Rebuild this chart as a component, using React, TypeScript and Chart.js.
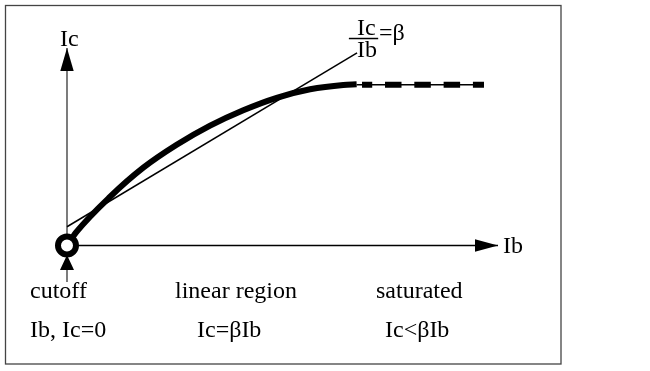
import React, { useEffect, useRef } from 'react';
import { Chart, registerables } from 'chart.js';

Chart.register(...registerables);

// Transistor characteristic (schematic): Ib on x, Ic on y (arbitrary units 0..100)
const curveIb = [0, 2.25, 10.0, 17.7, 25.45, 33.2, 40.9, 48.65, 56.4, 64.1, 67.2];
const curveIc = [0, 7.0, 24.7, 39.4, 51.0, 60.7, 68.5, 74.8, 79.1, 81.3, 81.6];

const saturationIb = [67.2, 96.75];
const saturationIc = [81.4, 81.4];
const saturationDashIb = [68.45, 96.75];

const tangentIb = [0, 67.3];
const tangentIc = [9.5, 97.5];

const xAxisIb = [0, 100];
const xAxisIc = [0, 0];
const yAxisIb = [0, 0];
const yAxisIc = [-18.5, 100];

const cutoffIb = [0];
const cutoffIc = [0];

const regionLabels = ['cutoff', 'linear region', 'saturated'];
const regionFormulas = ['Ib, Ic=0', 'Ic=βIb', 'Ic<βIb'];
const axisLabels = ['Ib', 'Ic'];
const fractionParts = ['Ic', 'Ib', '=β'];

const X_MIN = -15.545;
const X_MAX = 135.267;
const Y_MIN = -63.544;
const Y_MAX = 124.304;

const pts = (xs: number[], ys: number[]) => xs.map((x, i) => ({ x, y: ys[i] }));

const FONT = '24px "Liberation Serif", "Times New Roman", serif';

const decorPlugin = {
  id: 'decor',
  afterDatasetsDraw(chart: any) {
    const { ctx, scales } = chart;
    const X = (v: number) => scales.x.getPixelForValue(v);
    const Y = (v: number) => scales.y.getPixelForValue(v);
    ctx.save();

    const arrow = (tx: number, ty: number, dx: number, dy: number, len: number, hw: number, color: string) => {
      const bx = tx - dx * len;
      const by = ty - dy * len;
      const px = -dy;
      const py = dx;
      ctx.beginPath();
      ctx.moveTo(tx, ty);
      ctx.lineTo(bx + px * hw, by + py * hw);
      ctx.lineTo(bx - px * hw, by - py * hw);
      ctx.closePath();
      ctx.fillStyle = color;
      ctx.fill();
    };
    // axis arrowheads
    arrow(X(xAxisIb[1]), Y(xAxisIc[1]), 1, 0, 23, 6.3, '#000');
    arrow(X(yAxisIb[1]), Y(yAxisIc[1]), 0, -1, 23, 6.7, '#000');
    // cutoff pointer (below origin, pointing up)
    arrow(X(0), Y(-4.8), 0, -1, 15, 7, '#000');

    // texts
    ctx.fillStyle = '#000';
    ctx.font = FONT;
    ctx.textBaseline = 'alphabetic';
    ctx.textAlign = 'left';
    ctx.fillText(regionLabels[0], X(-8.58), Y(-26.6));
    ctx.fillText(regionFormulas[0], X(-8.58), Y(-46.1));
    ctx.fillText(regionLabels[1], X(25.06), Y(-26.6));
    ctx.fillText(regionFormulas[1], X(30.16), Y(-46.1));
    ctx.fillText(regionLabels[2], X(71.69), Y(-26.6));
    ctx.fillText(regionFormulas[2], X(73.78), Y(-46.1));
    ctx.fillText(axisLabels[0], X(101.16), Y(-3.8));
    ctx.fillText(axisLabels[1], X(-1.62), Y(101.0));

    // fraction Ic/Ib = β
    ctx.fillText(fractionParts[0], X(67.3), Y(106.6));
    ctx.fillText(fractionParts[1], X(67.3), Y(95.4));
    ctx.fillText(fractionParts[2], X(72.4), Y(104.05));
    ctx.beginPath();
    ctx.lineWidth = 1.5;
    ctx.strokeStyle = '#000';
    ctx.moveTo(X(65.4), Y(104.8));
    ctx.lineTo(X(72.2), Y(104.8));
    ctx.stroke();

    // frame
    ctx.lineWidth = 1.3;
    ctx.strokeStyle = '#444';
    ctx.strokeRect(5.5, 5.5, 555.5, 358.5);
    ctx.restore();
  },
};

export default function App() {
  const canvasRef = useRef<HTMLCanvasElement | null>(null);

  useEffect(() => {
    if (!canvasRef.current) return;
    const chart = new Chart(canvasRef.current, {
      type: 'scatter',
      data: {
        datasets: [
          {
            label: 'cutoff',
            data: pts(cutoffIb, cutoffIc),
            showLine: false,
            pointRadius: 9,
            pointBorderWidth: 6,
            pointBackgroundColor: '#fff',
            pointBorderColor: '#000',
            order: 0,
          },
          {
            label: 'Ic',
            data: pts(curveIb, curveIc),
            showLine: true,
            borderColor: '#000',
            borderWidth: 6,
            pointRadius: 0,
            cubicInterpolationMode: 'monotone',
            order: 1,
          },
          {
            label: 'saturation dashes',
            data: pts(saturationDashIb, saturationIc),
            showLine: true,
            borderColor: '#000',
            borderWidth: 6,
            borderDash: [16.5, 12.8],
            borderDashOffset: 6.3,
            borderCapStyle: 'butt',
            pointRadius: 0,
            order: 2,
          },
          {
            label: 'saturation',
            data: pts(saturationIb, saturationIc),
            showLine: true,
            borderColor: '#000',
            borderWidth: 1.5,
            pointRadius: 0,
            order: 3,
          },
          {
            label: 'beta',
            data: pts(tangentIb, tangentIc),
            showLine: true,
            borderColor: '#000',
            borderWidth: 1.5,
            pointRadius: 0,
            order: 4,
          },
          {
            label: 'Ib axis',
            data: pts(xAxisIb, xAxisIc),
            showLine: true,
            borderColor: '#000',
            borderWidth: 1.4,
            pointRadius: 0,
            order: 5,
          },
          {
            label: 'Ic axis',
            data: pts(yAxisIb, yAxisIc),
            showLine: true,
            borderColor: '#444',
            borderWidth: 1.4,
            pointRadius: 0,
            order: 6,
          },
        ],
      },
      options: {
        animation: false,
        responsive: false,
        devicePixelRatio: 1,
        layout: { padding: 0, autoPadding: false },
        plugins: { legend: { display: false }, tooltip: { enabled: false } },
        scales: {
          x: { type: 'linear', display: false, min: X_MIN, max: X_MAX },
          y: { type: 'linear', display: false, min: Y_MIN, max: Y_MAX },
        },
      },
      plugins: [decorPlugin],
    } as any);
    return () => chart.destroy();
  }, []);

  return (
    <div style={{ position: 'fixed', left: 0, top: 0, width: 650, height: 371, background: '#fff' }}>
      <canvas ref={canvasRef} width={650} height={371} style={{ display: 'block' }} />
    </div>
  );
}
